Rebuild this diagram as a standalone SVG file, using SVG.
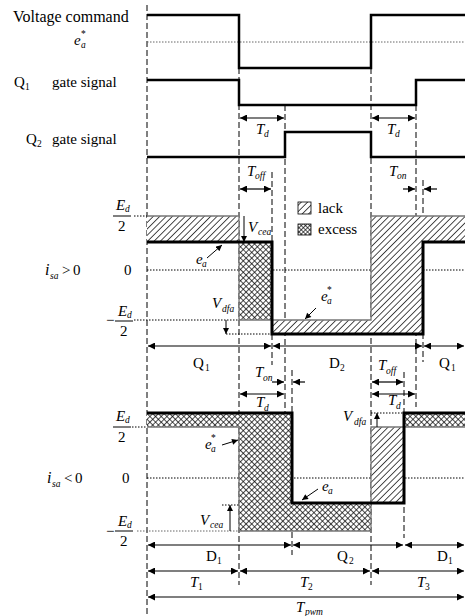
<svg xmlns="http://www.w3.org/2000/svg" width="465" height="616" viewBox="0 0 465 616">
<style>
text{font-family:"Liberation Serif","Times New Roman",serif;fill:#000}
.t{font-size:15px}
.i{font-size:15px;font-style:italic}
.s{font-size:9.5px}
.si{font-size:9.5px;font-style:italic}
.dash{stroke:#000;stroke-width:1;stroke-dasharray:6,3;fill:none}
.dot{stroke:#000;stroke-width:1;stroke-dasharray:1.5,1.5;fill:none}
.gdot{stroke:#666;stroke-width:1;stroke-dasharray:1.5,1.5;fill:none}
.wave{stroke:#000;stroke-width:2.5;fill:none}
.thick{stroke:#000;stroke-width:3;fill:none}
.cmd{stroke:#777;stroke-width:1.3;fill:none}
.arr{stroke:#000;stroke-width:1.2;fill:none;marker-end:url(#ah)}
.darr{stroke:#000;stroke-width:1.2;fill:none;marker-start:url(#ah);marker-end:url(#ah)}
.sarr{stroke:#000;stroke-width:1;fill:none;marker-end:url(#sh)}
</style>
<defs>
<marker id="ah" viewBox="0 0 10 10" refX="10" refY="5" markerWidth="9" markerHeight="7" orient="auto-start-reverse" markerUnits="userSpaceOnUse"><path d="M0,0 L10,5 L0,10 z" fill="#000"/></marker>
<marker id="sh" viewBox="0 0 10 10" refX="10" refY="5" markerWidth="7" markerHeight="6" orient="auto-start-reverse" markerUnits="userSpaceOnUse"><path d="M0,0 L10,5 L0,10 z" fill="#000"/></marker>
<pattern id="lack" patternUnits="userSpaceOnUse" width="4.5" height="4.5" patternTransform="rotate(45)"><rect width="4.5" height="4.5" fill="#fff"/><line x1="0" y1="0" x2="0" y2="4.5" stroke="#000" stroke-width="1.4"/></pattern>
<pattern id="excess" patternUnits="userSpaceOnUse" width="4" height="4" patternTransform="rotate(45)"><rect width="4" height="4" fill="#fff"/><line x1="0" y1="0" x2="0" y2="4" stroke="#000" stroke-width="1.4"/><line x1="0" y1="0" x2="4" y2="0" stroke="#000" stroke-width="1.4"/></pattern>
<pattern id="excessL" patternUnits="userSpaceOnUse" width="3" height="3" patternTransform="rotate(45)"><rect width="3" height="3" fill="#fff"/><line x1="0" y1="0" x2="0" y2="3" stroke="#000" stroke-width="1.3"/><line x1="0" y1="0" x2="3" y2="0" stroke="#000" stroke-width="1.3"/></pattern>
</defs>

<g id="guides">
<line class="dash" x1="147" y1="5" x2="147" y2="616"/>
<line class="dash" x1="239" y1="68" x2="239" y2="585"/>
<line class="dash" x1="285" y1="105" x2="285" y2="413"/>
<line class="dash" x1="371" y1="68" x2="371" y2="585"/>
<line class="dash" x1="416" y1="105" x2="416" y2="407"/>
<line class="dash" x1="272" y1="172" x2="272" y2="365"/>
<line class="dash" x1="423" y1="180" x2="423" y2="362"/>
<line class="dash" x1="292" y1="370" x2="292" y2="555"/>
<line class="dash" x1="404" y1="372" x2="404" y2="538"/>
<line class="gdot" x1="147" y1="42" x2="465" y2="42"/>
<line class="dot" x1="147" y1="270" x2="465" y2="270"/>
<line class="dot" x1="147" y1="478" x2="465" y2="478"/>
<line class="dot" x1="134" y1="216" x2="147" y2="216"/>
<line class="dot" x1="134" y1="320" x2="239" y2="320"/>
<line class="dot" x1="226" y1="334" x2="272" y2="334"/>
<line class="dot" x1="132" y1="427" x2="147" y2="427"/>
<line class="dot" x1="371" y1="413" x2="404" y2="413"/>
<line class="dot" x1="222" y1="505" x2="239" y2="505"/>
<line class="gdot" x1="137" y1="531" x2="239" y2="531"/>
</g>

<g id="voltage-command">
<path class="wave" d="M147,15 H239 V68 H371 V15 H465"/>
<text x="13" y="22" style="font-size:16px">Voltage command</text>
<text class="i" x="74" y="45">e</text><text class="si" x="81" y="48">a</text><text class="s" x="81" y="37">*</text>
</g>

<g id="q1-gate">
<path class="wave" d="M147,80 H239 V105 H416 V80 H465"/>
<text class="t" x="14" y="87">Q</text><text class="s" x="25" y="90">1</text><text class="t" x="52" y="87">gate signal</text>
</g>

<g id="q2-gate">
<path class="wave" d="M147,157 H285 V132 H371 V157 H465"/>
<text class="t" x="26" y="144">Q</text><text class="s" x="37" y="147">2</text><text class="t" x="52" y="144">gate signal</text>
</g>

<g id="positive-current">
<rect x="147" y="216" width="92" height="26" fill="url(#lack)"/>
<path d="M272,320 H371 V216 H465 V242 H423 V334 H272 Z" fill="url(#lack)"/>
<rect x="239" y="242" width="33" height="78" fill="url(#excess)"/>
<path class="cmd" d="M147,216 H239 V320 H371 V216 H465"/>
<path class="thick" d="M147,242 H272 V334 H423 V242 H465"/>
<text class="i" x="116" y="210">E</text><text class="si" x="125" y="212">d</text>
<line x1="113" y1="216" x2="131" y2="216" stroke="#000" stroke-width="1"/>
<text class="t" x="118" y="231">2</text>
<text class="t" x="106" y="325">−</text>
<text class="i" x="118" y="316">E</text><text class="si" x="127" y="318">d</text>
<line x1="115" y1="321" x2="133" y2="321" stroke="#000" stroke-width="1"/>
<text class="t" x="120" y="336">2</text>
<text class="i" x="45" y="275" style="font-size:16px">i</text><text class="si" x="50" y="279">sa</text><text class="t" x="62" y="275">&gt;</text><text class="t" x="73" y="275">0</text>
<text class="t" x="124" y="275">0</text>
<text class="i" x="196" y="264">e</text><text class="si" x="202" y="267">a</text>
<path class="sarr" d="M207,258 L222,245"/>
<text class="i" x="321" y="301">e</text><text class="si" x="327" y="304">a</text><text class="s" x="327" y="293">*</text>
<path class="sarr" d="M316,308 L305,319"/>
<text class="i" x="248" y="232">V</text><text class="si" x="258" y="235">cea</text>
<path class="sarr" d="M244,216 L244,242"/>
<text class="i" x="212" y="308">V</text><text class="si" x="222" y="312">dfa</text>
<path class="sarr" d="M226,320 L226,334"/>
</g>

<g id="legend">
<rect x="298" y="202" width="13" height="12" fill="url(#lack)" stroke="#000" stroke-width="0.8"/>
<text class="t" x="318" y="213">lack</text>
<rect x="298" y="224" width="13" height="11" fill="url(#excessL)" stroke="#000" stroke-width="0.8"/>
<text class="t" x="318" y="234">excess</text>
</g>

<g id="negative-current">
<path d="M147,413 H292 V503 H371 V531 H239 V427 H147 Z" fill="url(#excess)"/>
<rect x="404" y="413" width="61" height="14" fill="url(#excess)"/>
<rect x="371" y="427" width="33" height="76" fill="url(#lack)"/>
<path class="cmd" d="M147,427 H239 V531 H371 V427 H465"/>
<path class="thick" d="M147,413 H292 V503 H404 V413 H465"/>
<text class="i" x="116" y="421">E</text><text class="si" x="125" y="423">d</text>
<line x1="113" y1="427" x2="131" y2="427" stroke="#000" stroke-width="1"/>
<text class="t" x="118" y="442">2</text>
<text class="t" x="106" y="536">−</text>
<text class="i" x="118" y="526">E</text><text class="si" x="127" y="528">d</text>
<line x1="115" y1="531" x2="133" y2="531" stroke="#000" stroke-width="1"/>
<text class="t" x="120" y="546">2</text>
<text class="i" x="47" y="483" style="font-size:16px">i</text><text class="si" x="52" y="487">sa</text><text class="t" x="64" y="483">&lt;</text><text class="t" x="75" y="483">0</text>
<text class="t" x="122" y="483">0</text>
<text class="i" x="205" y="449">e</text><text class="si" x="211" y="452">a</text><text class="s" x="211" y="441">*</text>
<path class="sarr" d="M222,445 L238,440"/>
<text class="i" x="322" y="491">e</text><text class="si" x="328" y="494">a</text>
<path class="sarr" d="M318,489 L302,500"/>
<text class="i" x="200" y="525">V</text><text class="si" x="210" y="528">cea</text>
<path class="sarr" d="M230,531 L230,505"/>
<text class="i" x="343" y="421">V</text><text class="si" x="354" y="425">dfa</text>
<path class="sarr" d="M377,427 L377,413"/>
</g>

<g id="connectors">
<path class="darr" d="M240,118 H284"/>
<path class="darr" d="M372,118 H415"/>
<path class="darr" d="M240,189 H271"/>
<path class="arr" d="M403,189 H415"/>
<path class="arr" d="M437,189 H424"/>
<path class="darr" d="M148,346 H271"/>
<path class="darr" d="M273,346 H422"/>
<path class="darr" d="M424,346 H464"/>
<path class="arr" d="M272,382 H284"/>
<path class="arr" d="M305,382 H293"/>
<path class="darr" d="M372,382 H403"/>
<path class="darr" d="M240,394 H284"/>
<path class="darr" d="M372,394 H415"/>
<path class="darr" d="M148,545 H291"/>
<path class="darr" d="M293,545 H403"/>
<path class="darr" d="M405,545 H464"/>
<path class="darr" d="M148,571 H238"/>
<path class="darr" d="M240,571 H370"/>
<path class="darr" d="M372,571 H464"/>
<path class="darr" d="M148,597 H464"/>
</g>

<g id="time-labels">
<text class="i" x="256" y="134">T</text><text class="si" x="264" y="137">d</text>
<text class="i" x="387" y="134">T</text><text class="si" x="395" y="137">d</text>
<text class="i" x="247" y="176">T</text><text class="si" x="255" y="179">off</text>
<text class="i" x="389" y="176">T</text><text class="si" x="397" y="179">on</text>
<text class="t" x="193" y="368">Q</text><text class="s" x="205" y="371">1</text>
<text class="t" x="329" y="368">D</text><text class="s" x="340" y="371">2</text>
<text class="t" x="439" y="368">Q</text><text class="s" x="451" y="371">1</text>
<text class="i" x="255" y="377">T</text><text class="si" x="263" y="381">on</text>
<text class="i" x="256" y="407">T</text><text class="si" x="264" y="411">d</text>
<text class="i" x="378" y="370">T</text><text class="si" x="386" y="374">off</text>
<text class="i" x="388" y="405">T</text><text class="si" x="396" y="409">d</text>
<text class="t" x="206" y="561">D</text><text class="s" x="217" y="564">1</text>
<text class="t" x="337" y="561">Q</text><text class="s" x="349" y="564">2</text>
<text class="t" x="437" y="561">D</text><text class="s" x="448" y="564">1</text>
<text class="i" x="190" y="587">T</text><text class="s" x="198" y="590">1</text>
<text class="i" x="300" y="587">T</text><text class="s" x="308" y="590">2</text>
<text class="i" x="417" y="587">T</text><text class="s" x="425" y="590">3</text>
<text class="i" x="296" y="612">T</text><text class="si" x="305" y="615">pwm</text>
</g>
</svg>
